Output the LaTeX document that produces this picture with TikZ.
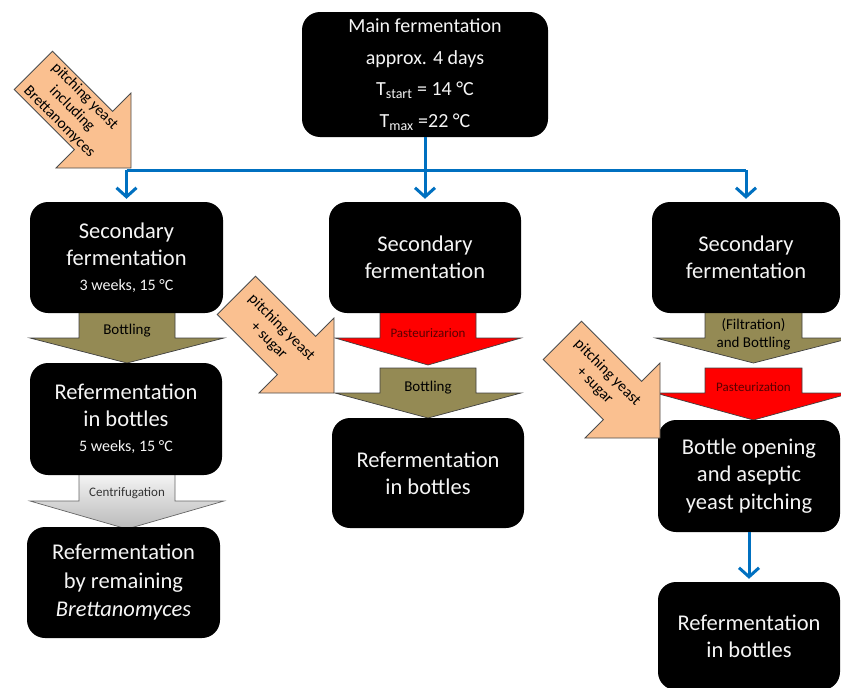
\documentclass[tikz,border=0pt]{standalone}
\usepackage{fontspec}
\setmainfont{Carlito}
\usetikzlibrary{arrows.meta}
\definecolor{olivec}{RGB}{148,138,84}
\definecolor{pitchcol}{RGB}{250,192,144}
\definecolor{flowblue}{RGB}{0,112,192}
\definecolor{boxtext}{RGB}{245,245,245}
\definecolor{labred}{RGB}{90,0,0}
\newcommand{\bigf}{\fontsize{22.5}{27}\selectfont}
\newcommand{\smallf}{\fontsize{16}{20}\selectfont}
% style, cx, ytop, yneck, ytip, shaft half width, head half width
\newcommand{\blockarrow}[7]{%
  \path[#1] (#2-#6,#3) -- (#2+#6,#3) -- (#2+#6,#4) -- (#2+#7,#4) -- (#2,#5)
    -- (#2-#7,#4) -- (#2-#6,#4) -- cycle;}
% tip x, tip y
\newcommand{\pitcharrow}[2]{%
  \path[pitchshape] (#1-78.5,#2-116.7) -- (#1-18.4,#2-56.6) -- (#1,#2-75) -- (#1,#2)
    -- (#1-75,#2) -- (#1-56.6,#2-18.4) -- (#1-116.7,#2-78.5) -- cycle;}
\tikzset{
  blackbox/.style={fill=black, rounded corners=18pt, text=boxtext, align=center,
    inner sep=0pt, font=\bigf},
  olivearrow/.style={fill=olivec, draw=black!75, line width=0.7pt},
  redarrow/.style={fill=red, draw=black!75, line width=0.7pt},
  grayarrow/.style={top color=gray!5, bottom color=gray!55, draw=black!60, line width=0.7pt},
  pitchshape/.style={fill=pitchcol, draw=black!70, line width=0.8pt},
  pitchtext/.style={rotate=-45, align=center, font=\fontsize{15.5}{18}\selectfont, text=black, inner sep=0pt},
  arlabel/.style={align=center, font=\fontsize{15}{18}\selectfont, text=black},
  arlabelsm/.style={align=center, font=\fontsize{13}{16}\selectfont},
  flowline/.style={draw=flowblue, line width=3pt},
  flowarrow/.style={draw=flowblue, line width=3pt, -{Straight Barb[length=9pt,width=20pt]}, shorten >=3pt},
}
\begin{document}
\begin{tikzpicture}[x=1pt, y=-1pt]
\useasboundingbox (0,0) rectangle (841,688);

% block arrows (behind the boxes)
\blockarrow{olivearrow}{127}{305}{338}{363}{48}{97}
\node[arlabel] (lbot) at (127,331) {Bottling};
\blockarrow{grayarrow}{127}{470}{501}{529}{48}{97}
\node[arlabelsm, text=black!80] (lcent) at (127,493) {Centrifugation};
\blockarrow{redarrow}{428}{305}{338}{365}{48}{93}
\node[arlabelsm, text=labred] (mpast) at (428,333) {Pasteurizarion};
\blockarrow{olivearrow}{428}{368}{393}{418}{48}{93}
\node[arlabel] (mbot) at (428,388) {Bottling};
\blockarrow{olivearrow}{753.5}{305}{338}{363}{48.5}{98}
\node[arlabel, font=\fontsize{15}{18}\selectfont] (rbot) at (753.5,334) {(Filtration)\\and Bottling};
\blockarrow{redarrow}{753.5}{368}{393}{420}{48.5}{98}
\node[arlabelsm, text=labred] (rpast) at (753.5,387) {Pasteurization};

% boxes
\node[blackbox, minimum width=246pt, minimum height=125pt, font=\fontsize{20}{31.5}\selectfont]
  (main) at (425,74.5) {Main fermentation\\approx. 4 days\\T\textsubscript{start} = 14 °C\\T\textsubscript{max} =22 °C};
\node[blackbox, minimum width=193pt, minimum height=111pt] (sec1) at (126.5,257.5)
  {Secondary\\fermentation\\[-2pt]{\smallf 3 weeks, 15 °C}};
\node[blackbox, minimum width=192pt, minimum height=111pt] (sec2) at (425,257.5)
  {Secondary\\fermentation};
\node[blackbox, minimum width=188pt, minimum height=111pt] (sec3) at (746,257.5)
  {Secondary\\fermentation};
\node[blackbox, minimum width=192pt, minimum height=112pt] (ref1) at (126,419)
  {Refermentation\\in bottles\\[-2pt]{\smallf 5 weeks, 15 °C}};
\node[blackbox, minimum width=193pt, minimum height=111pt, font=\fontsize{22.5}{28.5}\selectfont]
  (brett) at (123.5,582.5) {Refermentation\\by remaining\\\textit{Brettanomyces}};
\node[blackbox, minimum width=192pt, minimum height=110pt] (ref2) at (428,473)
  {Refermentation\\in bottles};
\node[blackbox, minimum width=182pt, minimum height=112pt, font=\fontsize{22.5}{27.5}\selectfont]
  (open) at (749,476) {Bottle opening\\and aseptic\\yeast pitching};
\node[blackbox, minimum width=182pt, minimum height=108pt] (final) at (749,636)
  {Refermentation\\in bottles};

% blue connectors
\coordinate (jn) at (425,170);
\coordinate (jl) at (126.5,170);
\coordinate (jr) at (746,170);
\draw[flowline] (main.south) -- (jn);
\draw[flowline] (jl) -- (jr);
\draw[flowarrow] (jl) -- (sec1.north);
\draw[flowarrow] (jn) -- (sec2.north);
\draw[flowarrow] (jr) -- (sec3.north);
\draw[flowarrow] (open.south) -- (final.north);

% pitching yeast arrows
\pitcharrow{131}{168}
\node[pitchtext] (p1) at (72,109) {pitching yeast\\including\\Brettanomyces};
\pitcharrow{334}{393}
\node[pitchtext] (p2) at (275,334) {pitching yeast\\+ sugar};
\pitcharrow{660}{438}
\node[pitchtext] (p3) at (601,379) {pitching yeast\\+ sugar};
\end{tikzpicture}
\end{document}
